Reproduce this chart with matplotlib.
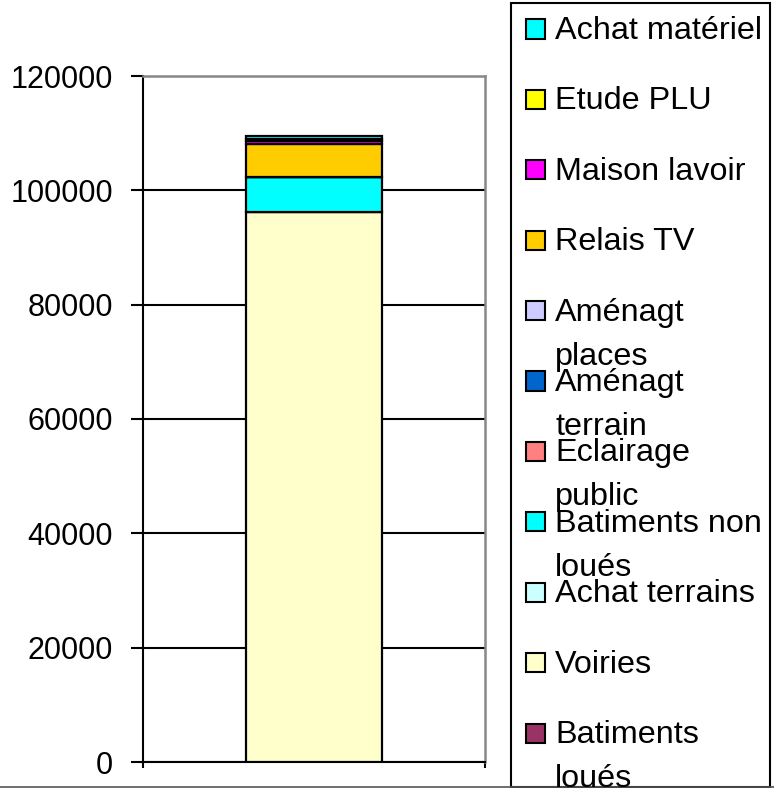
import matplotlib
matplotlib.use("Agg")
import matplotlib.pyplot as plt
from matplotlib.patches import Rectangle
from matplotlib.lines import Line2D

# ---- data (bottom of stack first) ----
series_names = ["Batiments loués", "Voiries", "Achat terrains", "Batiments non loués",
                "Eclairage public", "Aménagt terrain", "Aménagt places", "Relais TV",
                "Maison lavoir", "Etude PLU", "Achat matériel"]
legend_labels = ["Batiments\nloués", "Voiries", "Achat terrains", "Batiments non\nloués",
                 "Eclairage\npublic", "Aménagt\nterrain", "Aménagt\nplaces", "Relais TV",
                 "Maison lavoir", "Etude PLU", "Achat matériel"]
series_values = [0, 96200, 0, 6070, 0, 0, 0, 5800, 500, 400, 550]
series_colors = ["#993366", "#FFFFCC", "#CCFFFF", "#00FFFF", "#FF8080", "#0066CC",
                 "#CCCCFF", "#FFCC00", "#FF00FF", "#FFFF00", "#00FFFF"]
y_ticks = [0, 20000, 40000, 60000, 80000, 100000, 120000]

W, H = 774, 788
plt.rcParams['font.family'] = ['Liberation Sans', 'DejaVu Sans']
fig = plt.figure(figsize=(W / 100, H / 100), dpi=100)

def fx(px):
    return px / W

def fy(py):
    return 1 - py / H

ax = fig.add_axes([fx(143), fy(762), fx(485) - fx(143), fy(76) - fy(762)])

bottom = 0
for name, v, c in zip(series_names, series_values, series_colors):
    ax.bar([0], [v], bottom=bottom, width=0.4, color=c, edgecolor="black",
           linewidth=1.6, zorder=3)
    bottom += v

ax.set_xlim(-0.5, 0.5)
ax.set_ylim(0, 120000)
ax.set_yticks(y_ticks)
ax.set_yticklabels([str(t) for t in y_ticks], fontsize=22)
ax.set_xticks([-0.5, 0.5])
ax.set_xticklabels([])
ax.tick_params(axis="y", direction="out", length=9, width=1.5, pad=12.5)
ax.tick_params(axis="x", direction="out", length=4, width=1.5)
ax.yaxis.grid(True, color="black", linewidth=1.5, zorder=0)
ax.set_axisbelow(True)
for s in ["left", "bottom"]:
    ax.spines[s].set_color("black")
    ax.spines[s].set_linewidth(1.5)
for s in ["top", "right"]:
    ax.spines[s].set_color("#888888")
    ax.spines[s].set_linewidth(1.8)

# ---- legend (top entry = last series) ----
fig.patches.append(Rectangle((fx(511), fy(787)), fx(770) - fx(511), fy(3) - fy(787),
                             transform=fig.transFigure, facecolor="white",
                             edgecolor="black", linewidth=1.5))
order = list(range(len(series_names)))[::-1]
for k, i in enumerate(order):
    cy = 29 + 70.4 * k
    fig.patches.append(Rectangle((fx(526), fy(cy + 9.5)), fx(19), 19 / H,
                                 transform=fig.transFigure, facecolor=series_colors[i],
                                 edgecolor="black", linewidth=1.5))
    for j, line in enumerate(legend_labels[i].split("\n")):
        fig.text(fx(555), fy(cy + 10 + 44 * j), line, fontsize=23.3, va="baseline",
                 ha="left", color="black")

fig.lines.append(Line2D([0, 1], [fy(787), fy(787)], transform=fig.transFigure,
                        color="#555555", linewidth=1.2))

fig.savefig("out.png", dpi=100)
